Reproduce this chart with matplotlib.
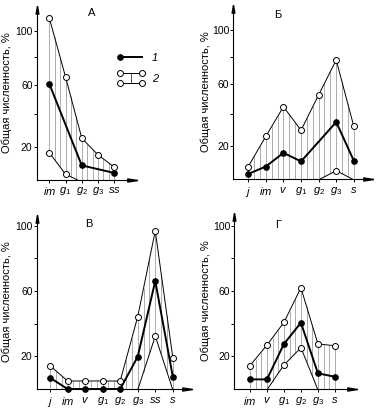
import numpy as np
import matplotlib
matplotlib.use('Agg')
import matplotlib.pyplot as plt
from matplotlib.lines import Line2D
from matplotlib.legend_handler import HandlerBase

plt.rcParams['font.family'] = ['Liberation Sans', 'DejaVu Sans']
plt.rcParams['mathtext.fontset'] = 'custom'
plt.rcParams['mathtext.rm'] = 'Liberation Sans'
plt.rcParams['mathtext.it'] = 'Liberation Sans:italic'

nan = np.nan

# panel А
stages_a = ['im', 'g_1', 'g_2', 'g_3', 'ss']
upper_a = [110, 66, 25.3, 15, 7.6]
mean_a = [61, nan, 8.6, nan, 4.0]
lower_a = [16.4, 3.2, -1.5, nan, nan]

# panel Б
stages_b = ['j', 'im', 'v', 'g_1', 'g_2', 'g_3', 's']
upper_b = [7.6, 26.1, 44.8, 29.8, 52.9, 77.5, 32.2]
mean_b = [3.1, 7.6, 15.9, 10.7, nan, 34.9, 11.1]
lower_b = [nan, nan, nan, nan, -0.5, 5.1, -0.5]

# panel В
stages_v = ['j', 'im', 'v', 'g_1', 'g_2', 'g_3', 'ss', 's']
upper_v = [14.3, 4.9, 4.9, 4.9, 4.9, 44.3, 96.8, 19.2]
mean_v = [6.9, 0, 0, 0, 0, 19.8, 66.1, 7.5]
lower_v = [nan, nan, nan, nan, nan, -0.5, 32.4, -0.5]

# panel Г
stages_g = ['im', 'v', 'g_1', 'g_2', 'g_3', 's']
upper_g = [14.3, 26.9, 40.8, 62.0, 27.6, 26.5]
mean_g = [5.9, 5.9, 27.6, 40.6, 9.6, 7.5]
lower_g = [nan, -0.5, 14.7, 25.3, -0.5, nan]

ylabel = 'Общая численность, %'

# the upper row is drawn with a slightly squeezed top part of the value axis
knots = [-100, 0, 20, 40, 60, 80, 100, 200]
dist = [-164, 0, 32.8, 65, 94.3, 122, 148.3, 280.3]


def fwd(v):
    return np.interp(v, knots, dist)


def inv(d):
    return np.interp(d, dist, knots)


arrow_x = [(0, 0), (-1, 0.16), (-1, -0.16), (0, 0)]
arrow_y = [(0, 0), (0.18, -1), (-0.18, -1), (0, 0)]


class KeyOne(HandlerBase):
    def create_artists(self, legend, orig_handle, xdescent, ydescent,
                       width, height, fontsize, trans):
        x0, x1 = -xdescent, -xdescent + width
        y = -ydescent + height / 2
        ln = Line2D([x0, x1], [y, y], color='black', lw=1.4, transform=trans)
        dot = Line2D([x0], [y], ls='none', marker='o', ms=3.8,
                     color='black', transform=trans)
        return [ln, dot]


class KeyTwo(HandlerBase):
    def create_artists(self, legend, orig_handle, xdescent, ydescent,
                       width, height, fontsize, trans):
        x0, x1 = -xdescent, -xdescent + width
        y0, y1 = -ydescent - 1, -ydescent + height + 1
        arts = []
        xm = (x0 + x1) / 2
        arts.append(Line2D([xm, xm], [y0, y1], color='0.3', lw=0.7,
                           transform=trans))
        for y in (y0, y1):
            arts.append(Line2D([x0, x1], [y, y], color='black', lw=0.7,
                               marker='o', ms=4.3, mfc='white', mec='black',
                               mew=0.7, transform=trans))
        return arts


def panel(ax, stages, upper, mean, lower, title, tpos, xlim, ylim,
          label_x, squeeze=False):
    upper = np.array(upper, float)
    mean = np.array(mean, float)
    lower = np.array(lower, float)
    x = np.arange(len(stages))

    if squeeze:
        ax.set_yscale('function', functions=(fwd, inv))

    # vertical hatching between the envelopes
    ok = ~np.isnan(upper)
    xs = np.arange(x[ok][0] * 3, x[ok][-1] * 3 + 1) / 3
    up = np.interp(xs, x[ok], upper[ok])
    lo = np.clip(np.interp(xs, x, np.where(np.isnan(lower), 0, lower)), 0, None)
    ax.vlines(xs, lo, up, colors='0.55', lw=0.5, zorder=1)

    ax.plot(x[ok], upper[ok], color='black', lw=0.7, zorder=2)
    lk = ~np.isnan(lower)
    ax.plot(x[lk], lower[lk], color='black', lw=0.7, zorder=2)
    mk = ~np.isnan(mean)
    ax.plot(x[mk], mean[mk], color='black', lw=1.4, marker='o', ms=3.8,
            zorder=4, clip_on=False)
    ax.plot(x[ok], upper[ok], ls='none', marker='o', ms=4.3, mfc='white',
            mec='black', mew=0.7, zorder=5, clip_on=False)
    vis = lk & (lower >= 0)
    ax.plot(x[vis], lower[vis], ls='none', marker='o', ms=4.3, mfc='white',
            mec='black', mew=0.7, zorder=5, clip_on=False)

    ax.set_xlim(*xlim)
    ax.set_ylim(*ylim)
    ax.set_xticks(x)
    ax.set_xticklabels(['$' + s + '$' for s in stages], fontsize=8)
    ax.set_yticks([20, 60, 100])
    ax.set_yticks([40, 80], minor=True)
    ax.set_xticks([], minor=True)
    ax.tick_params(axis='y', which='both', length=2.5, width=0.7, pad=0.5,
                   labelsize=7.5)
    ax.tick_params(axis='x', length=2.5, width=0.7, pad=1.5)
    for side in ('top', 'right'):
        ax.spines[side].set_visible(False)
    for side in ('left', 'bottom'):
        ax.spines[side].set_linewidth(0.8)
    ax.plot([1], [0], transform=ax.transAxes, marker=arrow_x, ms=14,
            color='black', clip_on=False)
    ax.plot([0], [1], transform=ax.transAxes, marker=arrow_y, ms=11,
            color='black', clip_on=False)

    ax.set_ylabel(ylabel, fontsize=8)
    ax.yaxis.set_label_coords(label_x, 0.5)
    ax.text(tpos[0], tpos[1], title, transform=ax.transAxes, fontsize=8,
            ha='center', va='center')


fig = plt.figure(figsize=(3.8, 4.09), dpi=100)

ax_a = fig.add_axes([0.0966, 0.5611, 0.263, 0.4242])
ax_b = fig.add_axes([0.614, 0.5623, 0.368, 0.4254])
ax_v = fig.add_axes([0.0966, 0.0489, 0.408, 0.4254])
ax_g = fig.add_axes([0.6166, 0.0489, 0.322, 0.4303])

panel(ax_a, stages_a, upper_a, mean_a, lower_a, 'А', (0.55, 0.96),
      (-0.775, 5.38), (0, 119), -0.25, squeeze=True)
panel(ax_b, stages_b, upper_b, mean_b, lower_b, 'Б', (0.32, 0.94),
      (-0.85, 7.1), (0, 119), -0.16, squeeze=True)
panel(ax_v, stages_v, upper_v, mean_v, lower_v, 'В', (0.333, 0.95),
      (-0.76, 8.08), (0, 106.5), -0.161)
panel(ax_g, stages_g, upper_g, mean_g, lower_g, 'Г', (0.36, 0.93),
      (-0.92, 6.28), (0, 107.8), -0.19)

h1 = Line2D([], [])
h2 = Line2D([], [])
ax_a.legend([h1, h2], ['1', '2'], handler_map={h1: KeyOne(), h2: KeyTwo()},
            loc='upper left', bbox_to_anchor=(0.83, 0.73), frameon=False,
            borderpad=0, borderaxespad=0, handlelength=2.0,
            handletextpad=0.9, labelspacing=1.0,
            prop={'size': 8, 'style': 'italic'})

fig.savefig('out.png', dpi=100)
